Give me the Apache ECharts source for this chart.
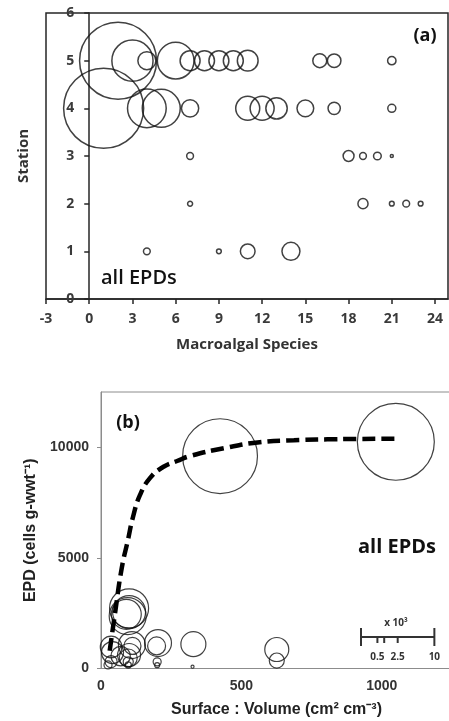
<!DOCTYPE html>
<html>
<head>
<meta charset="utf-8">
<script src="https://cdn.jsdelivr.net/npm/echarts@6/dist/echarts.min.js"></script>
<style>
  html, body { margin: 0; padding: 0; background: #fff; }
  #chart { width: 449px; height: 721px; }
</style>
</head>
<body>
<div id="chart"></div>
<script>
// ---- panel (a): species x station, bubble = EPD (x10^3 cells g-wwt-1) ----
const st5Species = [2, 3, 4, 6, 7, 8, 9, 10, 11, 16, 17, 21];
const st5Epd = [11.0, 3.15, 0.6, 2.5, 0.74, 0.74, 0.74, 0.74, 0.8, 0.36, 0.34, 0.13];
const st4Species = [1, 4, 5, 7, 11, 12, 13, 15, 17, 21];
const st4Epd = [11.9, 2.78, 2.68, 0.55, 1.07, 1.07, 0.85, 0.52, 0.28, 0.12];
const st3Species = [7, 18, 19, 20, 21];
const st3Epd = [0.085, 0.22, 0.085, 0.11, 0.017];
const st2Species = [7, 19, 21, 22, 23];
const st2Epd = [0.046, 0.19, 0.042, 0.085, 0.042];
const st1Species = [4, 9, 11, 14];
const st1Epd = [0.085, 0.042, 0.4, 0.6];

const xTicksA = [-3, 0, 3, 6, 9, 12, 15, 18, 21, 24];

// ---- panel (b): surface:volume vs EPD, bubble = EPD (x10^3) ----
const svRatio = [424, 1050, 100, 95, 100, 90, 110, 112, 203, 198, 200, 200, 329, 326, 626, 626, 41, 36, 36, 25, 100, 97, 97, 97, 70];
const epdB = [9600, 10250, 2720, 2370, 2550, 2450, 1060, 1020, 1150, 1020, 300, 150, 1100, 80, 860, 360, 720, 970, 310, 160, 610, 475, 300, 160, 560];
const sizeB = [10.4, 11.0, 2.83, 2.54, 2.02, 1.67, 1.35, 0.54, 1.35, 0.6, 0.12, 0.046, 1.16, 0.017, 1.07, 0.42, 0.9, 0.87, 0.27, 0.12, 0.98, 0.6, 0.19, 0.07, 0.7];

// fitted curve
const fitX = [31, 50, 74, 96, 114, 139, 175, 221, 271, 317, 442, 565, 687, 806, 903, 1050];
const fitY = [800, 2500, 4550, 5810, 6850, 7845, 8615, 9110, 9380, 9605, 9970, 10230, 10320, 10360, 10375, 10385];

// size legend
const legendVals = [0.5, 1, 2.5, 10];
const legendLabels = ['0.5', '', '2.5', '10'];

// bubble diameter from EPD (x10^3): area proportional to value
function sizeOf(v) {
  return 23.2 * Math.sqrt(v);
}

function rows(xs, y, vs) {
  return xs.map((x, i) => [x, y, vs[i]]);
}

const dataA = [].concat(
  rows(st5Species, 5, st5Epd),
  rows(st4Species, 4, st4Epd),
  rows(st3Species, 3, st3Epd),
  rows(st2Species, 2, st2Epd),
  rows(st1Species, 1, st1Epd)
);
const dataB = svRatio.map((x, i) => [x, epdB[i], sizeB[i]]);
const fitData = fitX.map((x, i) => [x, fitY[i]]);

const fontA = 'Open Sans';
const fontB = 'Liberation Sans';
const plain = (v) => String(v);

// panel (a) layout: y axis sits at species = 0
const gridA = { left: 46, top: 13, width: 402, height: 286 };
const xMinA = -3, xMaxA = 24.9;
const yAxisShiftA = -(0 - xMinA) * gridA.width / (xMaxA - xMinA);

// size scale bar (b)
const barX = 361, barY = 637;
const legendEls = [
  { type: 'line', shape: { x1: barX, y1: barY, x2: barX + sizeOf(10), y2: barY }, style: { stroke: '#333', lineWidth: 2 } },
  { type: 'line', shape: { x1: barX, y1: barY - 9, x2: barX, y2: barY + 9 }, style: { stroke: '#333', lineWidth: 2 } },
  { type: 'text', style: { text: 'x 10³', x: 396, y: 623, fill: '#333', font: 'bold 10px ' + fontA, textAlign: 'center', textVerticalAlign: 'middle' } }
];
legendVals.forEach((v, i) => {
  const x = barX + sizeOf(v);
  const big = i === legendVals.length - 1;
  legendEls.push({ type: 'line', shape: { x1: x, y1: big ? barY - 9 : barY, x2: x, y2: big ? barY + 9 : barY + 6 }, style: { stroke: '#333', lineWidth: 2 } });
  if (legendLabels[i]) {
    legendEls.push({ type: 'text', style: { text: legendLabels[i], x: x, y: 657, fill: '#333', font: 'bold 10px ' + fontA, textAlign: 'center', textVerticalAlign: 'middle' } });
  }
});

const chart = echarts.init(document.getElementById('chart'));
chart.setOption({
  animation: false,
  grid: [
    Object.assign({ outerBoundsMode: 'none', containLabel: false, show: true, borderColor: '#262626', borderWidth: 1.5 }, gridA),
    { left: 101, top: 392, width: 351, height: 276.5, outerBoundsMode: 'none', containLabel: false, show: true, borderColor: '#8c8c8c', borderWidth: 1 }
  ],
  xAxis: [
    {
      gridIndex: 0, type: 'value', min: xMinA, max: xMaxA, interval: 3,
      name: 'Macroalgal Species', nameLocation: 'middle', nameGap: 38,
      nameTextStyle: { fontFamily: fontA, fontWeight: 'bold', fontSize: 15, color: '#333' },
      axisLine: { onZero: false, lineStyle: { color: '#262626', width: 1.5 } },
      axisTick: { length: 5, customValues: xTicksA, lineStyle: { color: '#262626', width: 1.5 } },
      axisLabel: { customValues: xTicksA, margin: 13, fontFamily: fontA, fontWeight: 'bold', fontSize: 14, color: '#3a3a3a', formatter: plain },
      splitLine: { show: false }
    },
    {
      gridIndex: 1, type: 'value', min: 0, max: 1250, interval: 500,
      name: 'Surface : Volume (cm² cm⁻³)', nameLocation: 'middle', nameGap: 33,
      nameTextStyle: { fontFamily: fontB, fontWeight: 'bold', fontSize: 16, color: '#222' },
      axisLine: { lineStyle: { color: '#8c8c8c', width: 1 } },
      axisTick: { show: false },
      axisLabel: { showMaxLabel: false, margin: 11, fontFamily: fontB, fontWeight: 'bold', fontSize: 14, color: '#333', formatter: plain },
      splitLine: { show: false }
    }
  ],
  yAxis: [
    {
      gridIndex: 0, type: 'value', min: 0, max: 6, interval: 1,
      offset: yAxisShiftA,
      name: 'Station', nameLocation: 'middle', nameGap: 58,
      nameTextStyle: { fontFamily: fontA, fontWeight: 'bold', fontSize: 15, color: '#333' },
      axisLine: { onZero: false, lineStyle: { color: '#262626', width: 1.5 } },
      axisTick: { length: 5, lineStyle: { color: '#262626', width: 1.5 } },
      axisLabel: { margin: 15, fontFamily: fontA, fontWeight: 'bold', fontSize: 14, color: '#3a3a3a', formatter: plain },
      splitLine: { show: false }
    },
    {
      gridIndex: 1, type: 'value', min: 0, max: 12500, interval: 5000,
      name: 'EPD (cells g-wwt⁻¹)', nameLocation: 'middle', nameGap: 62,
      nameTextStyle: { fontFamily: fontB, fontWeight: 'bold', fontSize: 16, color: '#222' },
      axisLine: { lineStyle: { color: '#8c8c8c', width: 1 } },
      axisTick: { length: 4, lineStyle: { color: '#8c8c8c' } },
      axisLabel: { showMaxLabel: false, margin: 12, fontFamily: fontB, fontWeight: 'bold', fontSize: 14, color: '#333', formatter: plain },
      splitLine: { show: false }
    }
  ],
  series: [
    {
      type: 'scatter', xAxisIndex: 0, yAxisIndex: 0, data: dataA,
      symbolSize: (val) => sizeOf(val[2]),
      itemStyle: { color: 'rgba(0,0,0,0)', borderColor: '#111', borderWidth: 1.5 },
      emphasis: { disabled: true }
    },
    {
      type: 'scatter', xAxisIndex: 1, yAxisIndex: 1, data: dataB,
      symbolSize: (val) => sizeOf(val[2]),
      itemStyle: { color: 'rgba(0,0,0,0)', borderColor: '#111', borderWidth: 1.2 },
      emphasis: { disabled: true }
    },
    {
      type: 'line', xAxisIndex: 1, yAxisIndex: 1, data: fitData,
      smooth: 0.5, showSymbol: false,
      lineStyle: { color: '#000', width: 4.5, type: [13, 6] },
      emphasis: { disabled: true }
    }
  ],
  graphic: [
    { type: 'text', style: { text: '(a)', x: 425, y: 36, fill: '#111', font: 'bold 18px ' + fontA, textAlign: 'center', textVerticalAlign: 'middle' } },
    { type: 'text', style: { text: 'all EPDs', x: 101, y: 278, fill: '#111', font: '600 20px ' + fontA, textAlign: 'left', textVerticalAlign: 'middle' } },
    { type: 'text', style: { text: '(b)', x: 128, y: 423, fill: '#111', font: 'bold 18px ' + fontA, textAlign: 'center', textVerticalAlign: 'middle' } },
    { type: 'text', style: { text: 'all EPDs', x: 397, y: 547, fill: '#111', font: 'bold 20px ' + fontA, textAlign: 'center', textVerticalAlign: 'middle' } }
  ].concat(legendEls)
});
</script>
</body>
</html>
